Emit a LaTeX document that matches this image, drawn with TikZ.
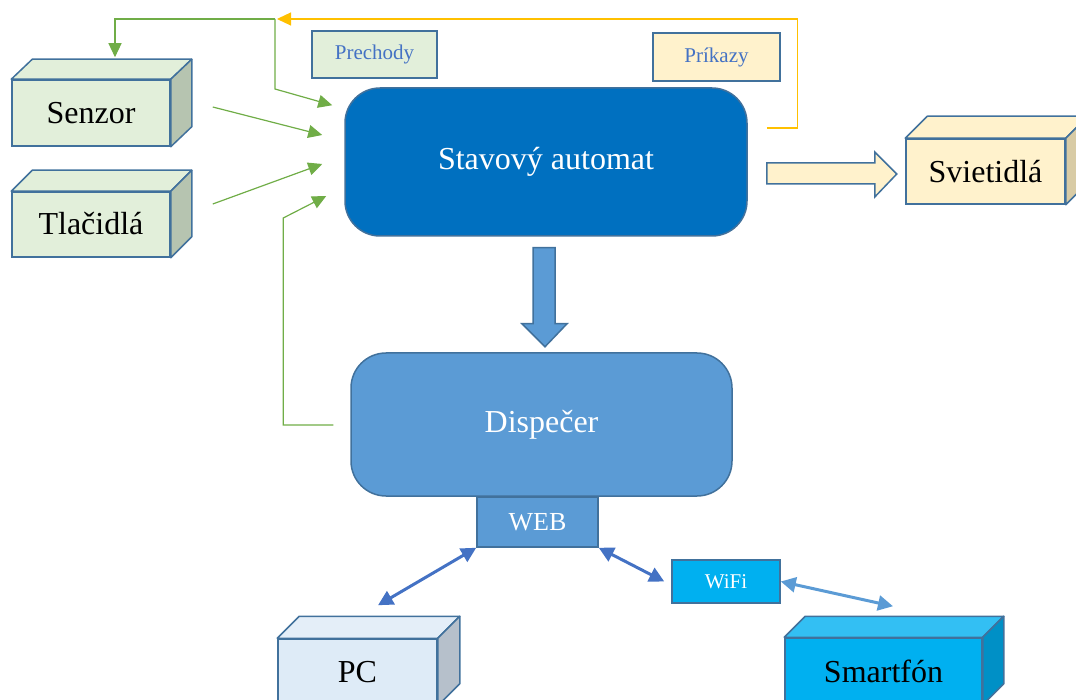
\documentclass[tikz,border=0pt]{standalone}
\usepackage{fontspec}
\setmainfont{Liberation Serif}
\usetikzlibrary{arrows.meta,calc}
\definecolor{bord}{HTML}{41719C}
\definecolor{grn}{HTML}{70AD47}
\definecolor{yel}{HTML}{FFC000}
\definecolor{lgreen}{HTML}{E2EFDA}
\definecolor{lgreenside}{HTML}{B6C4B0}
\definecolor{cream}{HTML}{FFF2CC}
\definecolor{creamside}{HTML}{D8CBA5}
\definecolor{dblue}{HTML}{0070C0}
\definecolor{mblue}{HTML}{5B9BD5}
\definecolor{ablue}{HTML}{4472C4}
\definecolor{cyanb}{HTML}{00B0F0}
\definecolor{cyantop}{HTML}{33BFF3}
\definecolor{cyanside}{HTML}{0090C6}
\definecolor{pcfill}{HTML}{DEEBF7}
\definecolor{pctop}{HTML}{E4EEF8}
\definecolor{pcside}{HTML}{B6C0CB}
\newcommand\cubefaces[5]{%
  \draw[bord,line width=1.5pt,fill=#4,line join=round]
    (#1.north west) -- ++(#2,#3) -- ($(#1.north east)+(#2,#3)$) -- (#1.north east) -- cycle;
  \draw[bord,line width=1.5pt,fill=#5,line join=round]
    (#1.north east) -- ++(#2,#3) -- ($(#1.south east)+(#2,#3)$) -- (#1.south east) -- cycle;
}
\begin{document}
\begin{tikzpicture}[x=1pt,y=-1pt,
  cubefront/.style={draw=bord,line width=1.5pt,rectangle,inner sep=0pt,
    font=\fontsize{32}{32}\selectfont,text=black},
  roundbox/.style={draw=bord,line width=1.5pt,rectangle,rounded corners=35pt,inner sep=0pt,
    font=\fontsize{32}{32}\selectfont,text=white},
  labelbox/.style={draw=bord,line width=1.5pt,rectangle,inner sep=0pt,
    font=\fontsize{21}{21}\selectfont,text=ablue},
  garrow/.style={draw=grn,line width=1.2pt,-{Triangle[length=14pt,width=13pt]}},
  barrow/.style={draw=ablue,fill=ablue,line width=3pt,{Triangle[length=15pt,width=15pt]}-{Triangle[length=15pt,width=15pt]}},
  blockarrow/.style={draw=bord,line width=1.5pt,line join=miter}]
\useasboundingbox (0,0) rectangle (1076,700);
\clip (0,0) rectangle (1076,700);

% main boxes
\node[roundbox,fill=dblue,minimum width=402pt,minimum height=148pt] (auto) at (546,162) {Stavový automat};
\node[roundbox,fill=mblue,minimum width=381pt,minimum height=143pt] (disp) at (541.5,424.5) {Dispečer};
\node[draw=bord,line width=1.5pt,fill=mblue,inner sep=0pt,minimum width=121pt,minimum height=50pt,
  font=\fontsize{26}{26}\selectfont,text=white] (web) at (537.5,522) {WEB};
\node[draw=bord,line width=1.5pt,fill=cyanb,inner sep=0pt,minimum width=108pt,minimum height=43pt,
  font=\fontsize{21}{21}\selectfont,text=white] (wifi) at (726,581.5) {WiFi};

% label boxes
\node[labelbox,fill=lgreen,minimum width=125pt,minimum height=47pt] (prech) at (374.5,54.5) {Prechody};
\node[labelbox,fill=cream,minimum width=127pt,minimum height=48pt] (prik) at (716.5,57) {Príkazy};

% cubes
\node[cubefront,fill=lgreen,minimum width=158pt,minimum height=66pt] (senz) at (91,113) {Senzor};
\cubefaces{senz}{21}{-20}{lgreen}{lgreenside}
\node[cubefront,fill=lgreen,minimum width=158pt,minimum height=65pt] (tlac) at (91,224.5) {\raisebox{2pt}{Tlačidlá}};
\cubefaces{tlac}{21}{-21}{lgreen}{lgreenside}
\node[cubefront,fill=cream,minimum width=159pt,minimum height=65pt] (svet) at (985.5,171.5) {Svietidlá};
\cubefaces{svet}{22}{-22}{cream}{creamside}
\node[cubefront,fill=pcfill,minimum width=159pt,minimum height=66pt] (pc) at (357.5,672) {PC};
\cubefaces{pc}{22}{-22}{pctop}{pcside}
\node[cubefront,fill=cyanb,minimum width=197pt,minimum height=66pt] (smart) at (883.5,671) {Smartfón};
\cubefaces{smart}{21}{-21}{cyantop}{cyanside}

% block arrows
\draw[blockarrow,fill=cream] ($(auto.east)+(19,1)$) coordinate (ra) -- ++(108,0) -- ++(0,-11) -- ++(22,22) -- ++(-22,23) -- ++(0,-13) -- ++(-108,0) -- cycle;
\draw[blockarrow,fill=mblue] ($(auto.south)+(-13,11)$) coordinate (da) -- ++(22,0) -- ++(0,76) -- ++(12,0) -- ++(-22,23) -- ++(-23,-23) -- ++(11,0) -- cycle;

% green and yellow connectors
\coordinate (jn) at (275,19);
\draw[garrow] (jn) -| ($(senz.north)+(24,-22)$);
\draw[garrow] (jn) -- ++(0,70) -- ($(auto.north west)+(-12,18)$);
\draw[garrow] ($(senz.east)+(42,-6)$) -- ($(auto.west)+(-22,-27)$);
\draw[garrow] ($(tlac.east)+(42,-20.5)$) -- ($(auto.west)+(-22,2)$);
\draw[garrow] ($(disp.west)+(-17,0.5)$) -- ++(-50,0) -- ++(0,-207) -- ($(auto.west)+(-18,34)$);
\draw[draw=yel,line width=1.2pt,-{Triangle[length=14pt,width=13pt]}]
  ($(auto.east)+(19,-34)$) -- ++(31,0) -- ++(0,-109) -- ($(jn)+(2,0)$);

% blue double arrows
\draw[barrow] (web.south west) -- ($(pc.north)+(20.5,-33)$);
\draw[barrow] (web.south east) -- ($(wifi.west)+(-7,0)$);
\draw[barrow,draw=mblue,fill=mblue] (wifi.east) -- ($(smart.north)+(9.5,-31)$);
\end{tikzpicture}
\end{document}
